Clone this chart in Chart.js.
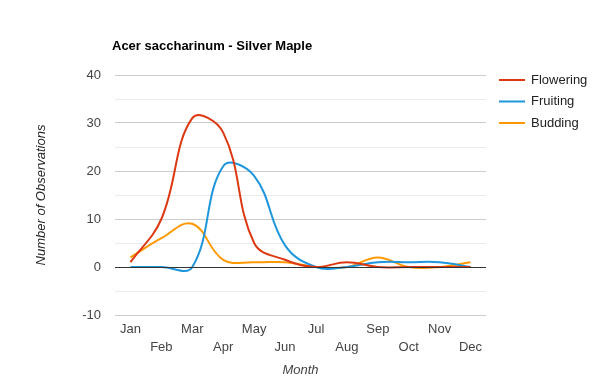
<!DOCTYPE html>
<html>
<head>
<meta charset="utf-8">
<script src="https://cdn.jsdelivr.net/npm/chart.js@4/dist/chart.umd.min.js"></script>
<style>
html,body{margin:0;padding:0;background:#fff;}
#wrap{width:600px;height:390px;position:relative;}
</style>
</head>
<body>
<div id="wrap"><canvas id="c" width="600" height="390"></canvas></div>
<script>
const months = ['Jan','Feb','Mar','Apr','May','Jun','Jul','Aug','Sep','Oct','Nov','Dec'];
const flowering = [1, 10, 31, 28, 5, 1.5, 0, 1, 0, 0, 0, 0];
const fruiting  = [0, 0, 0, 21, 19, 4.5, 0, 0, 1, 1, 1, 0];
const budding   = [2, 6, 9, 1.5, 1, 1, 0, 0, 2, 0, 0, 1];
const seriesNames = ['Flowering','Fruiting','Budding'];
const seriesColors = ['#dc3912','#1e96dc','#ff9900'];
const yTicks = [-10, 0, 10, 20, 30, 40];
const chartTitle = 'Acer saccharinum - Silver Maple';
const xTitle = 'Month';
const yTitle = 'Number of Observations';

const FONT = 'Arial, "Liberation Sans", sans-serif';

const overlay = {
  id: 'overlay',
  afterDraw(chart) {
    const ctx = chart.ctx;
    ctx.save();
    ctx.font = 'bold 13px ' + FONT;
    ctx.fillStyle = '#000';
    ctx.textBaseline = 'middle';
    ctx.textAlign = 'left';
    ctx.fillText(chartTitle, 112, 46);
    ctx.font = '13px ' + FONT;
    seriesNames.forEach((n, i) => {
      const y = 80 + i * 21.5;
      ctx.strokeStyle = seriesColors[i];
      ctx.lineWidth = 2;
      ctx.beginPath();
      ctx.moveTo(499, y);
      ctx.lineTo(525, y);
      ctx.stroke();
      ctx.fillStyle = '#222';
      ctx.fillText(n, 531, y);
    });
    const y0 = chart.scales.y.getPixelForValue(0);
    ctx.strokeStyle = '#333';
    ctx.lineWidth = 1;
    ctx.beginPath();
    ctx.moveTo(chart.chartArea.left, Math.round(y0) + 0.5);
    ctx.lineTo(chart.chartArea.right, Math.round(y0) + 0.5);
    ctx.stroke();
    ctx.restore();
  }
};

const datasets = [flowering, fruiting, budding].map((d, i) => ({
  label: seriesNames[i],
  data: d,
  borderColor: seriesColors[i],
  backgroundColor: seriesColors[i],
  borderWidth: 2,
  pointRadius: 0,
  tension: 0.4,
  fill: false
}));

new Chart(document.getElementById('c'), {
  type: 'line',
  data: { labels: months, datasets: datasets },
  plugins: [overlay],
  options: {
    responsive: false,
    animation: false,
    layout: { padding: { left: 34, right: 114, top: 75, bottom: 12 } },
    elements: { line: { capBezierPoints: false } },
    plugins: { legend: { display: false }, tooltip: { enabled: false }, title: { display: false } },
    scales: {
      x: {
        offset: true,
        grid: { display: false, drawTicks: false },
        border: { display: false },
        ticks: {
          autoSkip: false,
          maxRotation: 0,
          padding: 6,
          color: '#444',
          font: { family: FONT, size: 13, lineHeight: 1.35 },
          callback: function(v, i) { return i % 2 === 0 ? months[i] : ['', months[i]]; }
        },
        title: { display: true, text: xTitle, color: '#444', font: { family: FONT, size: 13, style: 'italic' }, padding: { top: 4, bottom: 0 } },
        afterFit(s) { s.height = 63; }
      },
      y: {
        min: -10, max: 40,
        grid: {
          drawTicks: false,
          color: (c) => (c.tick && c.tick.value % 10 === 0) ? '#cccccc' : '#ebebeb'
        },
        border: { display: false },
        ticks: {
          stepSize: 5,
          padding: 14,
          color: '#444',
          font: { family: FONT, size: 13 },
          callback: (v) => yTicks.includes(v) ? String(v) : ''
        },
        title: { display: true, text: yTitle, color: '#222', font: { family: FONT, size: 13, style: 'italic' }, padding: { top: 0, bottom: 0 } },
        afterFit(s) { s.width = 81; }
      }
    }
  }
});
</script>
</body>
</html>
